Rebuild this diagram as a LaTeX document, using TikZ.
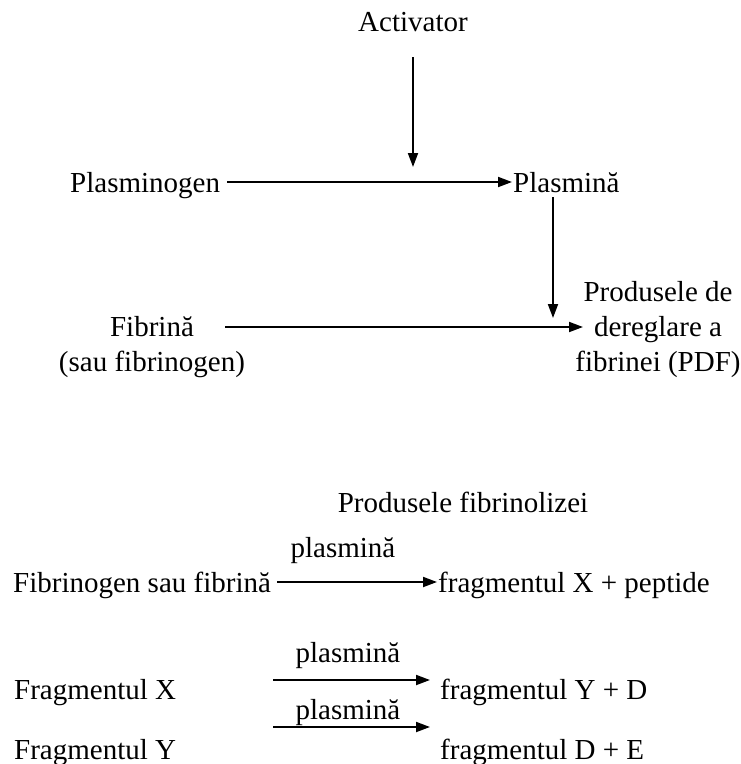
\documentclass[tikz,border=0pt]{standalone}
\usepackage{fontspec}
\setmainfont{Liberation Serif}
\usetikzlibrary{arrows.meta}
\begin{document}
\begin{tikzpicture}[x=1pt,y=-1pt,
  lbl/.style={inner sep=0pt,font=\fontsize{29}{35}\selectfont},
  conn/.style={line width=1.9pt,-{Triangle[length=14pt,width=10pt]}}]
\useasboundingbox (0,0) rectangle (740,764);
% upper scheme
\node[lbl,anchor=base] (act) at (413,31) {Activator};
\node[lbl,anchor=base west] (plg) at (70,192) {Plasminogen};
\node[lbl,anchor=base west] (pla) at (513,192) {Plasmină};
\node[lbl,anchor=base,align=center] (fib) at (152,371) {Fibrină\\(sau fibrinogen)};
\node[lbl,anchor=base,align=center] (pdf) at (658,371) {Produsele de\\dereglare a\\fibrinei (PDF)};
\coordinate (a1) at (413,57);
\coordinate (a2) at (413,167);
\draw[conn] (a1) -- (a2);
\coordinate (p1) at (227,182);
\coordinate (p2) at (512,182);
\draw[conn] (p1) -- (p2);
\coordinate (v1) at (553,197);
\coordinate (v2) at (553,318);
\draw[conn] (v1) -- (v2);
\coordinate (f1) at (225,327);
\coordinate (f2) at (583,327);
\draw[conn] (f1) -- (f2);
% lower scheme
\node[lbl,anchor=base] (title) at (463,512) {Produsele fibrinolizei};
\node[lbl,anchor=base] (lab1) at (343,557) {plasmină};
\node[lbl,anchor=base west] (r1l) at (13,592) {Fibrinogen sau fibrină};
\node[lbl,anchor=base west] (r1r) at (438,592) {fragmentul X + peptide};
\coordinate (g1) at (277,582);
\coordinate (g2) at (437,582);
\draw[conn] (g1) -- (g2);
\node[lbl,anchor=base] (lab2) at (348,662) {plasmină};
\node[lbl,anchor=base west] (r2l) at (14,699) {Fragmentul X};
\node[lbl,anchor=base west] (r2r) at (440,699) {fragmentul Y + D};
\coordinate (h1) at (273,680);
\coordinate (h2) at (430,680);
\draw[conn] (h1) -- (h2);
\node[lbl,anchor=base] (lab3) at (348,719) {plasmină};
\node[lbl,anchor=base west] (r3l) at (14,759) {Fragmentul Y};
\node[lbl,anchor=base west] (r3r) at (440,759) {fragmentul D + E};
\coordinate (k1) at (273,727);
\coordinate (k2) at (430,727);
\draw[conn] (k1) -- (k2);
\end{tikzpicture}
\end{document}
